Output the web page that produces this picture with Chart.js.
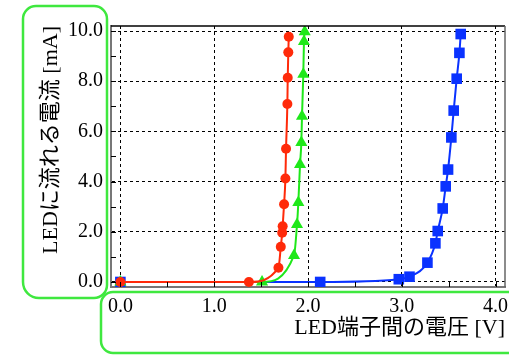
<!DOCTYPE html>
<html>
<head>
<meta charset="utf-8">
<script src="https://cdn.jsdelivr.net/npm/chart.js@4"></script>
<style>
  html, body { margin: 0; padding: 0; background: #fff; }
  canvas { display: block; }
</style>
</head>
<body>
<canvas id="iv" width="509" height="355"></canvas>
<script>
// LED forward characteristics: current [mA] vs. terminal voltage [V]
const redVolt   = [0.0, 1.37, 1.685, 1.71, 1.725, 1.73, 1.745, 1.759, 1.766, 1.78, 1.784, 1.79, 1.795];
const redCurr   = [0.0, 0.0, 0.57, 1.40, 1.96, 2.22, 3.10, 4.12, 5.31, 7.09, 8.14, 9.15, 9.77];

const greenVolt = [0.0, 1.51, 1.851, 1.883, 1.897, 1.915, 1.929, 1.936, 1.950, 1.957, 1.965];
const greenCurr = [0.0, 0.0, 1.06, 2.29, 3.17, 4.68, 5.56, 6.60, 8.28, 9.58, 9.97];

const blueVolt  = [0.0, 2.13, 2.968, 3.082, 3.273, 3.358, 3.383, 3.436, 3.468, 3.493, 3.528, 3.553, 3.585, 3.614, 3.628];
const blueCurr  = [0.0, 0.0, 0.11, 0.21, 0.77, 1.54, 2.03, 2.93, 3.81, 4.48, 5.76, 6.83, 8.10, 9.13, 9.88];

const xTickValues = [0, 1, 2, 3, 4];
const yTickValues = [0, 2, 4, 6, 8, 10];
const xTitle = 'LED端子間の電圧 [V]';
const yTitle = 'LEDに流れる電流 [mA]';

const FONT = "'Liberation Serif', 'Noto Sans CJK JP', serif";

const toPoints = (xs, ys) => xs.map((x, i) => ({ x: x, y: ys[i] }));

function series(label, xs, ys, color, style, radius) {
  return {
    label: label,
    data: toPoints(xs, ys),
    showLine: true,
    borderColor: color,
    backgroundColor: color,
    borderWidth: 2,
    cubicInterpolationMode: 'monotone',
    pointStyle: style,
    pointRadius: radius,
    pointHoverRadius: radius,
    pointBorderWidth: 0,
    pointBackgroundColor: color
  };
}

// frame on top/right, inward tick marks, and the green outline boxes
const decorations = {
  id: 'decorations',
  afterDatasetsDraw(chart) {
    const { ctx, chartArea: a, scales: { x, y } } = chart;
    ctx.save();
    // inward ticks
    ctx.strokeStyle = '#000';
    ctx.lineWidth = 1;
    ctx.beginPath();
    for (let v = 0; v <= 4.001; v += 0.5) {
      const px = Math.round(x.getPixelForValue(v)) + 0.5;
      ctx.moveTo(px, a.bottom);
      ctx.lineTo(px, a.bottom - 5);
    }
    for (let v = 0; v <= 10.001; v += 1) {
      const py = Math.round(y.getPixelForValue(v)) + 0.5;
      ctx.moveTo(a.left, py);
      ctx.lineTo(a.left + 5, py);
    }
    ctx.stroke();
    // top and right frame
    ctx.beginPath();
    ctx.strokeStyle = '#000';
    ctx.lineWidth = 1.5;
    ctx.moveTo(a.left, a.top);
    ctx.lineTo(a.right, a.top);
    ctx.stroke();
    ctx.beginPath();
    ctx.strokeStyle = '#666';
    ctx.lineWidth = 1.5;
    ctx.moveTo(a.right, a.top);
    ctx.lineTo(a.right, a.bottom);
    ctx.stroke();
    ctx.restore();
  },
  afterDraw(chart) {
    const { ctx } = chart;
    ctx.save();
    ctx.strokeStyle = '#3fe83f';
    ctx.lineWidth = 2.5;
    ctx.lineJoin = 'round';
    ctx.beginPath();
    ctx.roundRect(23, 6, 84, 292, [13, 13, 13, 16]);
    ctx.stroke();
    ctx.beginPath();
    ctx.roundRect(101, 292, 430, 61, 12);
    ctx.stroke();
    ctx.restore();
  }
};

new Chart(document.getElementById('iv'), {
  type: 'scatter',
  data: {
    datasets: [
      series('赤色LED', redVolt, redCurr, '#ff2a0a', 'circle', 5),
      series('緑色LED', greenVolt, greenCurr, '#1fe81a', 'triangle', 7),
      series('青色LED', blueVolt, blueCurr, '#0a32ff', 'rect', 7.5)
    ]
  },
  options: {
    responsive: false,
    animation: false,
    events: [],
    layout: { autoPadding: false, padding: { top: 26, right: 4, left: 0, bottom: 0 } },
    plugins: {
      legend: { display: false },
      tooltip: { enabled: false }
    },
    scales: {
      x: {
        type: 'linear',
        min: -0.1,
        max: 4.1,
        afterFit(scale) {
          scale.height = 68;
          scale.paddingLeft = 0;
          scale.paddingRight = 0;
        },
        afterBuildTicks(scale) { scale.ticks = xTickValues.map(v => ({ value: v })); },
        ticks: {
          color: '#000',
          font: { family: FONT, size: 20 },
          padding: 8,
          maxRotation: 0,
          autoSkip: false,
          callback: v => Number(v).toFixed(1)
        },
        grid: { color: '#000', lineWidth: 1, drawTicks: false },
        border: { display: true, color: '#777', width: 2, dash: [3, 3] },
        title: {
          display: true,
          text: xTitle,
          align: 'end',
          color: '#000',
          font: { family: FONT, size: 22 },
          padding: { top: 0, bottom: 14 }
        }
      },
      y: {
        type: 'linear',
        min: -0.2,
        max: 10.2,
        afterFit(scale) {
          scale.width = 111;
          scale.paddingTop = 0;
          scale.paddingBottom = 0;
        },
        afterBuildTicks(scale) { scale.ticks = yTickValues.map(v => ({ value: v })); },
        ticks: {
          color: '#000',
          font: { family: FONT, size: 20 },
          padding: 8,
          autoSkip: false,
          callback: v => Number(v).toFixed(1)
        },
        grid: { color: '#000', lineWidth: 1, drawTicks: false },
        border: { display: true, color: '#777', width: 2, dash: [3, 3] },
        title: {
          display: true,
          text: yTitle,
          align: 'end',
          color: '#000',
          font: { family: FONT, size: 22 },
          padding: { top: 38, bottom: 0 }
        }
      }
    }
  },
  plugins: [decorations]
});
</script>
</body>
</html>
